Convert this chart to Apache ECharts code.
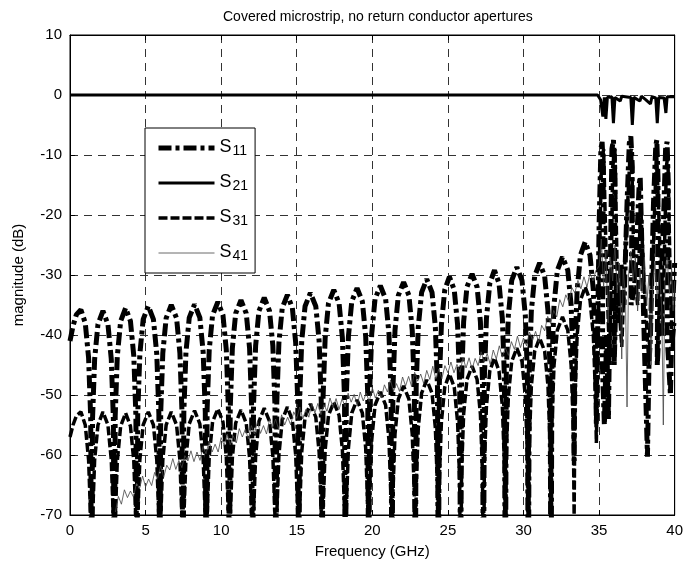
<!DOCTYPE html>
<html><head><meta charset="utf-8">
<script src="https://cdn.jsdelivr.net/npm/echarts@6/dist/echarts.min.js"></script>
<style>html,body{margin:0;padding:0;background:#fff}#c{width:686px;height:565px}</style>
</head><body><div id="c"></div>
<script>
// Shared frequency samples (GHz) for the periodic S11 / S31 arches, up to 34.82 GHz
var archFreq = [
0,0.2,0.42,0.72,1.01,1.23,1.37,1.43,
1.49,1.63,1.85,2.18,2.51,2.73,2.87,2.93,
2.99,3.13,3.35,3.68,4.0,4.22,4.36,4.42,
4.48,4.62,4.84,5.18,5.52,5.74,5.88,5.94,
6.0,6.14,6.36,6.7,7.05,7.27,7.41,7.47,
7.53,7.67,7.89,8.24,8.59,8.81,8.95,9.01,
9.07,9.21,9.43,9.78,10.12,10.34,10.48,10.54,
10.6,10.74,10.96,11.31,11.66,11.88,12.02,12.08,
12.14,12.28,12.5,12.85,13.2,13.42,13.56,13.62,
13.68,13.82,14.04,14.38,14.71,14.93,15.07,15.13,
15.19,15.33,15.55,15.9,16.26,16.48,16.62,16.68,
16.74,16.88,17.1,17.45,17.8,18.02,18.16,18.22,
18.28,18.42,18.64,18.99,19.34,19.56,19.7,19.76,
19.82,19.96,20.18,20.53,20.88,21.1,21.24,21.3,
21.36,21.5,21.72,22.07,22.42,22.64,22.78,22.84,
22.9,23.04,23.26,23.6,23.95,24.17,24.31,24.37,
24.43,24.57,24.79,25.1,25.42,25.64,25.78,25.84,
25.9,26.04,26.26,26.6,26.93,27.15,27.29,27.35,
27.41,27.55,27.77,28.08,28.38,28.6,28.74,28.8,
28.86,29.0,29.22,29.56,29.9,30.12,30.26,30.32,
30.38,30.52,30.74,31.07,31.4,31.62,31.76,31.82,
31.88,32.02,32.24,32.58,32.93,33.15,33.29,33.35,
33.41,33.55,33.77,34.08,34.4,34.62,34.76,34.82
];
// S11 magnitude (dB) at archFreq
var s11Arch = [
-41,-38.5,-36.6,-35.8,-38,-43.8,-53.8,-90,
-54,-44,-38.2,-36,-38.2,-44,-54,-90,
-53.5,-43.5,-37.7,-35.5,-37.7,-43.5,-53.5,-90,
-53.2,-43.2,-37.4,-35.2,-37.4,-43.2,-53.2,-90,
-53,-43,-37.2,-35,-37.2,-43,-53,-90,
-52.9,-42.9,-37.1,-34.9,-37.1,-42.9,-52.9,-90,
-52.5,-42.5,-36.7,-34.5,-36.7,-42.5,-52.5,-90,
-52.2,-42.2,-36.4,-34.2,-36.4,-42.2,-52.2,-90,
-51.8,-41.8,-36,-33.8,-36,-41.8,-51.8,-90,
-51.3,-41.3,-35.5,-33.3,-35.5,-41.3,-51.3,-90,
-51,-41,-35.2,-33,-35.2,-41,-51,-90,
-50.5,-40.5,-34.7,-32.5,-34.7,-40.5,-50.5,-90,
-50.2,-40.2,-34.4,-32.2,-34.4,-40.2,-50.2,-90,
-49.8,-39.8,-34,-31.8,-34,-39.8,-49.8,-90,
-49.2,-39.2,-33.4,-31.2,-33.4,-39.2,-49.2,-90,
-48.7,-38.7,-32.9,-30.7,-32.9,-38.7,-48.7,-90,
-48.3,-38.3,-32.5,-30.3,-32.5,-38.3,-48.3,-90,
-47.8,-37.8,-32,-29.8,-32,-37.8,-47.8,-90,
-47.2,-37.2,-31.4,-29.2,-31.4,-37.2,-47.2,-90,
-46.7,-36.7,-30.9,-28.7,-30.9,-36.7,-46.7,-90,
-46,-36,-30.2,-28,-30.2,-36,-46,-90,
-45,-35,-29.2,-27,-29.2,-35,-45,-61,
-42.5,-32.5,-26.7,-24.5,-26.7,-32.5,-42.5,-55
];
// S31 magnitude (dB) at archFreq
var s31Arch = [
-57,-55,-53.5,-52.8,-55,-60.8,-70.8,-90,
-70.8,-60.8,-55,-52.8,-55,-60.8,-70.8,-90,
-71,-61,-55.2,-53,-55.2,-61,-71,-90,
-70.8,-60.8,-55,-52.8,-55,-60.8,-70.8,-90,
-70.8,-60.8,-55,-52.8,-55,-60.8,-70.8,-90,
-70.6,-60.6,-54.8,-52.6,-54.8,-60.6,-70.6,-90,
-70.3,-60.3,-54.5,-52.3,-54.5,-60.3,-70.3,-90,
-70.5,-60.5,-54.7,-52.5,-54.7,-60.5,-70.5,-90,
-70.2,-60.2,-54.4,-52.2,-54.4,-60.2,-70.2,-90,
-70,-60,-54.2,-52,-54.2,-60,-70,-90,
-69.5,-59.5,-53.7,-51.5,-53.7,-59.5,-69.5,-90,
-69.2,-59.2,-53.4,-51.2,-53.4,-59.2,-69.2,-90,
-68.8,-58.8,-53,-50.8,-53,-58.8,-68.8,-90,
-67.5,-57.5,-51.7,-49.5,-51.7,-57.5,-67.5,-90,
-66.5,-56.5,-50.7,-48.5,-50.7,-56.5,-66.5,-90,
-65.5,-55.5,-49.7,-47.5,-49.7,-55.5,-65.5,-90,
-64.5,-54.5,-48.7,-46.5,-48.7,-54.5,-64.5,-90,
-63.2,-53.2,-47.4,-45.2,-47.4,-53.2,-63.2,-90,
-61.8,-51.8,-46,-43.8,-46,-51.8,-61.8,-90,
-60.2,-50.2,-44.4,-42.2,-44.4,-50.2,-60.2,-90,
-58.5,-48.5,-42.7,-40.5,-42.7,-48.5,-58.5,-90,
-55,-45,-39.2,-37,-39.2,-45,-55,-70,
-50,-40,-34.2,-32,-34.2,-40,-50,-58
];
// Above-cutoff region (> 34.8 GHz), [GHz, dB]
var s11Tail = [[35.0,-22],[35.12,-9],[35.2,-7.8],[35.28,-12],[35.22,-45],[35.35,-55],[35.5,-40],[35.62,-54],[35.75,-28],[35.85,-9],[35.95,-7.5],[36.05,-13],[36.0,-45],[36.15,-30],[36.3,-38],[36.45,-28],[36.65,-35],[36.85,-18],[37.0,-8],[37.1,-6.9],[37.2,-12],[37.12,-35],[37.35,-32],[37.5,-24],[37.65,-15],[37.72,-13.6],[37.8,-22],[38.0,-42],[38.2,-60.3],[38.3,-45],[38.4,-40],[38.6,-18],[38.75,-8.5],[38.82,-7.5],[38.9,-14],[38.85,-45],[39.1,-32],[39.25,-22],[39.4,-9],[39.5,-7.8],[39.58,-15],[39.5,-40],[39.72,-50],[39.85,-36],[40,-28]];
var s31Tail = [[35.0,-30],[35.15,-12],[35.3,-9],[35.45,-25],[35.7,-45],[35.9,-12],[36.05,-9],[36.2,-30],[36.5,-42],[36.75,-25],[37.05,-10],[37.15,-9],[37.3,-28],[37.55,-35],[37.75,-18],[37.95,-30],[38.3,-45],[38.6,-25],[38.8,-9],[38.95,-20],[39.2,-40],[39.45,-12],[39.55,-10],[39.7,-30],[39.85,-42],[40,-38]];
// S21 [GHz, dB]
var s21Data = [[0,0],[34.9,0],[35.1,-0.8],[35.25,-3.6],[35.35,-0.4],[35.45,-4],[35.55,-0.4],[35.85,-0.3],[35.95,-4.7],[36.05,-0.4],[36.4,-1.0],[36.5,-0.2],[37.1,-0.4],[37.2,-5],[37.3,-0.4],[37.7,-1.0],[37.8,-0.2],[38.1,-0.8],[38.4,-1.5],[38.5,-0.3],[38.75,-0.5],[38.85,-4.7],[38.95,-0.4],[39.3,-0.5],[39.42,-3],[39.5,-0.3],[40,-0.3]];
// S41 [GHz, dB]
var s41Data = [
[3.0,-69.5],[3.2,-66.9],[3.4,-68.2],[3.6,-65.8],[3.8,-67.1],[4.0,-66.0],[4.2,-67.0],[4.4,-64.7],[4.6,-65.6],[4.8,-63.5],
[5.0,-65.3],[5.2,-64.0],[5.4,-65.1],[5.6,-62.9],[5.8,-63.9],[6.0,-61.8],[6.2,-63.7],[6.4,-61.7],[6.6,-62.5],[6.8,-60.6],
[7.0,-62.4],[7.2,-60.9],[7.4,-62.1],[7.6,-60.1],[7.8,-61.0],[8.0,-59.3],[8.2,-61.1],[8.4,-59.5],[8.6,-60.9],[8.8,-58.6],
[9.0,-59.8],[9.2,-57.7],[9.4,-59.5],[9.6,-58.2],[9.8,-59.5],[10.0,-57.1],[10.2,-58.4],[10.4,-56.5],[10.6,-58.3],[10.8,-56.8],
[11.0,-58.0],[11.2,-55.6],[11.4,-57.0],[11.6,-55.7],[11.8,-57.3],[12.0,-55.1],[12.2,-56.5],[12.4,-54.4],[12.6,-56.4],[12.8,-55.1],
[13.0,-56.5],[13.2,-54.1],[13.4,-55.5],[13.6,-54.0],[13.8,-55.7],[14.0,-53.3],[14.2,-55.0],[14.4,-53.7],[14.6,-55.0],[14.8,-52.8],
[15.0,-53.9],[15.2,-52.0],[15.4,-54.0],[15.6,-52.4],[15.8,-53.7],[16.0,-51.4],[16.2,-53.0],[16.4,-51.4],[16.6,-53.3],[16.8,-51.6],
[17.0,-52.7],[17.2,-50.5],[17.4,-52.1],[17.6,-50.6],[17.8,-52.4],[18.0,-50.6],[18.2,-52.0],[18.4,-49.7],[18.6,-51.2],[18.8,-49.9],
[19.0,-51.8],[19.2,-49.5],[19.4,-51.0],[19.6,-49.7],[19.8,-51.1],[20.0,-48.8],[20.2,-50.5],[20.4,-49.2],[20.6,-50.5],[20.8,-48.3],
[21.0,-49.5],[21.2,-47.5],[21.4,-49.4],[21.6,-48.1],[21.8,-49.4],[22.0,-47.0],[22.2,-48.5],[22.4,-46.9],[22.6,-48.6],[22.8,-46.2],
[23.0,-47.7],[23.2,-46.5],[23.4,-48.1],[23.6,-45.9],[23.8,-47.4],[24.0,-45.2],[24.2,-47.3],[24.4,-45.7],[24.6,-47.3],[24.8,-45.1],
[25.0,-46.3],[25.2,-44.5],[25.4,-46.3],[25.6,-44.9],[25.8,-46.2],[26.0,-43.8],[26.2,-45.5],[26.4,-43.8],[26.6,-45.7],[26.8,-43.9],
[27.0,-45.1],[27.2,-42.8],[27.4,-44.5],[27.6,-43.1],[27.8,-44.9],[28.0,-42.5],[28.2,-44.0],[28.4,-41.8],[28.6,-43.7],[28.8,-42.1],
[29.0,-43.4],[29.2,-41.1],[29.4,-42.4],[29.6,-40.2],[29.8,-42.1],[30.0,-40.5],[30.2,-41.8],[30.4,-39.5],[30.6,-40.9],[30.8,-39.4],
[31.0,-41.2],[31.2,-38.4],[31.4,-39.3],[31.6,-36.9],[31.8,-38.1],[32.0,-35.9],[32.2,-37.0],[32.4,-34.1],[32.6,-35.3],[32.8,-33.3],
[33.0,-34.5],[33.2,-32.1],[33.4,-33.0],[33.6,-30.9],[33.8,-32.3],[34.0,-30.3],[34.2,-32.0],[34.4,-29.7],[34.6,-31.0],[34.8,-29.2],
[35.0,-28.5],[35.15,-24],[35.3,-32],[35.45,-26],[35.6,-38],[35.75,-27],[35.9,-31],[36.05,-25],[36.2,-33],[36.35,-28],
[36.5,-44],[36.6,-29],[36.75,-34],[36.85,-52],[36.95,-30],[37.1,-26],[37.25,-31],[37.4,-27],[37.55,-36],[37.7,-29],
[37.85,-33],[38.0,-27],[38.15,-35],[38.3,-30],[38.45,-45],[38.55,-31],[38.7,-28],[38.85,-34],[39.0,-29],[39.15,-36],
[39.25,-55],[39.35,-31],[39.5,-27],[39.65,-33],[39.8,-29],[39.9,-36],[40,-31]
];
var seriesNames = ['S11','S21','S31','S41'];
var xTicks = {min:0, max:40, interval:5};
var yTicks = {min:-70, max:10, interval:10};

function zip(f, v){ return f.map(function(x,i){ return [x, v[i]]; }); }
var FONT = '"Liberation Sans", Arial, Helvetica, sans-serif';
var chart = echarts.init(document.getElementById('c'), null, {renderer:'canvas'});
var gridLine = {show:true, lineStyle:{color:'#333', width:1, type:[8,6]}};
var styles = {
  S11:{color:'#000', width:5, type:[13,4,4,4], cap:'butt'},
  S21:{color:'#000', width:3, type:'solid'},
  S31:{color:'#000', width:3.5, type:[9,3], cap:'butt'},
  S41:{color:'#444', width:0.8, type:'solid'}
};
var option = {
  backgroundColor:'#fff',
  animation:false,
  color:['#000','#000','#000','#444'],
  title:{text:'Covered microstrip, no return conductor apertures', left:218, top:5,
    textStyle:{fontFamily:FONT, fontSize:14, fontWeight:'normal', color:'#000'}},
  grid:{left:70, right:9, top:35, bottom:50, show:true, borderColor:'#000', borderWidth:1},
  legend:{
    data:seriesNames.map(function(n){ return {name:n, lineStyle:styles[n]}; }),
    orient:'vertical', left:145, top:128,
    backgroundColor:'#fff', borderColor:'#000', borderWidth:1,
    padding:[4,7,10,11], itemWidth:56, itemHeight:14, itemGap:9,
    itemStyle:{opacity:0},
    formatter:function(n){ return '{s|S}{sub|' + n.slice(1) + '}'; },
    textStyle:{fontFamily:FONT, color:'#000', rich:{
      s:{fontFamily:FONT, fontSize:18, lineHeight:20, verticalAlign:'top', color:'#000'},
      sub:{fontFamily:FONT, fontSize:14, lineHeight:16, padding:[12,0,0,1], verticalAlign:'bottom', color:'#000'}
    }}
  },
  xAxis:[{
    type:'value', min:xTicks.min, max:xTicks.max, interval:xTicks.interval,
    name:'Frequency (GHz)', nameLocation:'middle', nameGap:29,
    nameTextStyle:{fontFamily:FONT, fontSize:15, color:'#000'},
    axisLine:{show:true, onZero:false, lineStyle:{color:'#000', width:1}},
    axisTick:{show:true, inside:true, length:5, lineStyle:{color:'#000'}},
    axisLabel:{fontFamily:FONT, fontSize:15, color:'#000', margin:8},
    splitLine:gridLine
  },{
    type:'value', position:'top', min:xTicks.min, max:xTicks.max, interval:xTicks.interval,
    axisLine:{show:true, onZero:false, lineStyle:{color:'#000', width:1}},
    axisTick:{show:true, inside:true, length:5, lineStyle:{color:'#000'}},
    axisLabel:{show:false}, splitLine:{show:false}
  }],
  yAxis:[{
    type:'value', min:yTicks.min, max:yTicks.max, interval:yTicks.interval,
    name:'magnitude (dB)', nameLocation:'middle', nameGap:44,
    nameTextStyle:{fontFamily:FONT, fontSize:15, color:'#000'},
    axisLine:{show:true, onZero:false, lineStyle:{color:'#000', width:1}},
    axisTick:{show:true, inside:true, length:5, lineStyle:{color:'#000'}},
    axisLabel:{fontFamily:FONT, fontSize:15, color:'#000', margin:8},
    splitLine:gridLine
  },{
    type:'value', position:'right', min:yTicks.min, max:yTicks.max, interval:yTicks.interval,
    axisLine:{show:true, onZero:false, lineStyle:{color:'#000', width:1}},
    axisTick:{show:true, inside:true, length:5, lineStyle:{color:'#000'}},
    axisLabel:{show:false}, splitLine:{show:false}
  }],
  series:[
    {name:'S11', type:'line', symbol:'none', clip:true, z:2,
     data:zip(archFreq, s11Arch).concat(s11Tail),
     itemStyle:{color:'#000'}, lineStyle:styles.S11},
    {name:'S21', type:'line', symbol:'none', clip:true, z:3,
     data:s21Data, itemStyle:{color:'#000'}, lineStyle:styles.S21},
    {name:'S31', type:'line', symbol:'none', clip:true, z:4,
     data:zip(archFreq, s31Arch).concat(s31Tail),
     itemStyle:{color:'#000'}, lineStyle:styles.S31},
    {name:'S41', type:'line', symbol:'none', clip:true, z:5,
     data:s41Data, itemStyle:{color:'#444'}, lineStyle:styles.S41}
  ]
};
chart.setOption(option);
</script></body></html>
